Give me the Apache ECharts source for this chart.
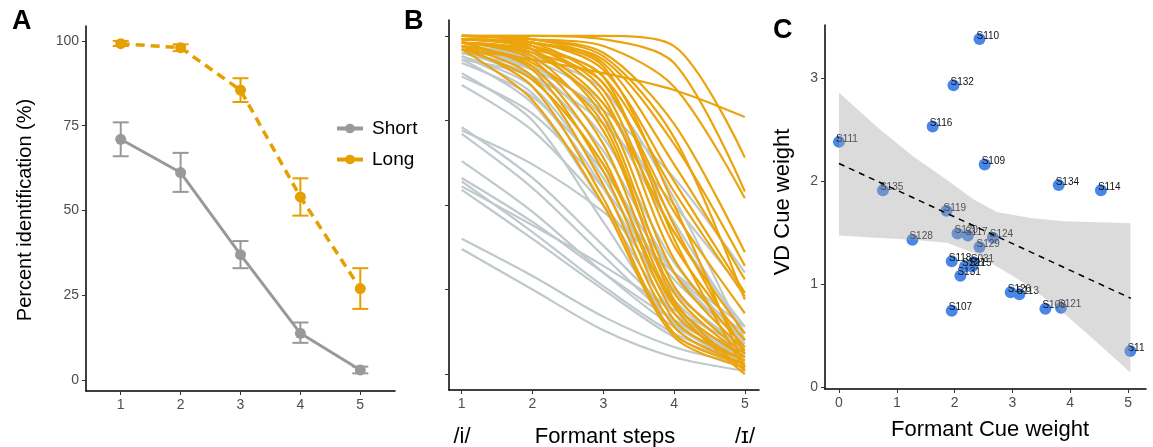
<!DOCTYPE html>
<html>
<head>
<meta charset="utf-8">
<script src="https://cdn.jsdelivr.net/npm/echarts@6/dist/echarts.min.js"></script>
<style>
  html, body { margin: 0; padding: 0; background: #fff; }
  #chart { width: 1153px; height: 447px; }
</style>
</head>
<body>
<div id="chart"></div>
<script>
// ---- panel A : mean identification per step ----
const steps = [1, 2, 3, 4, 5];
const shortPct = [71, 61.2, 37, 13.8, 3];
const shortLo = [66, 55.5, 33, 11, 2];
const shortHi = [76, 67, 41, 17, 4];
const longPct = [99.2, 98, 85.5, 54, 27];
const longLo = [98.5, 97, 82, 48.5, 21];
const longHi = [100, 99, 89, 59.5, 33];
const pctTicks = [0, 25, 50, 75, 100];

// ---- panel B : individual fitted curves (value at steps 1..5) ----
const greyCurves = [
  [0.97, 0.93, 0.80, 0.45, 0.12],
  [0.96, 0.91, 0.76, 0.42, 0.14],
  [0.96, 0.90, 0.70, 0.33, 0.10],
  [0.95, 0.88, 0.66, 0.30, 0.09],
  [0.95, 0.87, 0.62, 0.25, 0.07],
  [0.94, 0.85, 0.58, 0.22, 0.06],
  [0.94, 0.83, 0.55, 0.20, 0.05],
  [0.93, 0.80, 0.50, 0.18, 0.05],
  [0.93, 0.88, 0.74, 0.50, 0.24],
  [0.88, 0.77, 0.55, 0.28, 0.10],
  [0.855, 0.72, 0.50, 0.24, 0.08],
  [0.73, 0.58, 0.38, 0.18, 0.06],
  [0.72, 0.62, 0.48, 0.30, 0.14],
  [0.71, 0.55, 0.35, 0.16, 0.05],
  [0.63, 0.48, 0.30, 0.14, 0.05],
  [0.58, 0.45, 0.30, 0.16, 0.07],
  [0.57, 0.42, 0.26, 0.12, 0.04],
  [0.555, 0.44, 0.32, 0.19, 0.08],
  [0.545, 0.40, 0.25, 0.11, 0.03],
  [0.40, 0.29, 0.17, 0.08, 0.03],
  [0.37, 0.25, 0.13, 0.05, 0.01],
  [0.95, 0.90, 0.78, 0.58, 0.30],
  [0.97, 0.94, 0.84, 0.52, 0.10],
  [0.92, 0.82, 0.60, 0.30, 0.12],
  [0.89, 0.75, 0.45, 0.15, 0.03]
];
const orangeCurves = [
  [0.96, 0.93, 0.89, 0.84, 0.76],
  [1.00, 1.00, 1.00, 0.97, 0.64],
  [1.00, 1.00, 0.99, 0.92, 0.54],
  [1.00, 0.99, 0.97, 0.85, 0.52],
  [1.00, 0.99, 0.95, 0.74, 0.36],
  [0.99, 0.98, 0.93, 0.68, 0.32],
  [1.00, 0.99, 0.92, 0.62, 0.28],
  [0.99, 0.98, 0.90, 0.57, 0.24],
  [0.99, 0.97, 0.88, 0.54, 0.23],
  [1.00, 0.98, 0.86, 0.48, 0.18],
  [0.99, 0.97, 0.84, 0.38, 0.10],
  [0.99, 0.97, 0.82, 0.34, 0.08],
  [0.98, 0.95, 0.78, 0.30, 0.07],
  [0.99, 0.96, 0.76, 0.26, 0.06],
  [0.98, 0.94, 0.72, 0.24, 0.05],
  [0.98, 0.93, 0.68, 0.21, 0.05],
  [0.97, 0.91, 0.64, 0.18, 0.04],
  [0.98, 0.90, 0.60, 0.16, 0.04],
  [0.97, 0.88, 0.56, 0.14, 0.03],
  [0.97, 0.85, 0.52, 0.12, 0.03],
  [0.96, 0.81, 0.50, 0.11, 0.02],
  [0.99, 0.96, 0.80, 0.42, 0.12],
  [1.00, 0.99, 0.94, 0.70, 0.22],
  [0.98, 0.95, 0.86, 0.44, 0.06],
  [0.99, 0.98, 0.91, 0.50, 0.02],
  [0.97, 0.92, 0.74, 0.22, 0.01],
  [0.98, 0.96, 0.88, 0.40, 0.01],
  [0.96, 0.87, 0.62, 0.20, 0.00]
];
const propTicks = [0, 0.25, 0.5, 0.75, 1];

// ---- panel C : cue weights per subject ----
const subjects = ['S110', 'S132', 'S116', 'S111', 'S109', 'S135', 'S134', 'S114', 'S119', 'S120',
  'S117', 'S124', 'S129', 'S128', 'S118', 'S031', 'S127', 'S115', 'S131', 'S126', 'S113',
  'S107', 'S108', 'S121', 'S11'];
const formantW = [2.43, 1.98, 1.62, 0.00, 2.52, 0.76, 3.80, 4.53, 1.86, 2.05,
  2.23, 2.66, 2.43, 1.27, 1.95, 2.33, 2.18, 2.30, 2.10, 2.97, 3.12,
  1.95, 3.57, 3.84, 5.04];
const vdW = [3.38, 2.93, 2.53, 2.38, 2.16, 1.91, 1.96, 1.91, 1.71, 1.49,
  1.47, 1.45, 1.36, 1.43, 1.22, 1.21, 1.17, 1.17, 1.08, 0.92, 0.90,
  0.74, 0.76, 0.77, 0.35];
const fitX = [0, 5.05];
const fitY = [2.17, 0.86];
const bandUpX = [0, 0.35, 0.71, 1.28, 1.87, 2.33, 2.73, 3.31, 3.88, 4.47, 5.04];
const bandUpY = [2.86, 2.68, 2.50, 2.24, 2.01, 1.82, 1.70, 1.64, 1.61, 1.60, 1.59];
const bandLoX = [0, 0.64, 1.28, 1.87, 2.33, 2.73, 3.0, 3.31, 3.88, 4.47, 5.04];
const bandLoY = [1.47, 1.45, 1.43, 1.40, 1.30, 1.17, 1.08, 0.97, 0.72, 0.43, 0.14];
const cXTicks = [0, 1, 2, 3, 4, 5];
const cYTicks = [0, 1, 2, 3];

const GREY = '#999999';
const ORANGE = '#E69F00';
const tickFont = { color: '#4d4d4d', fontSize: 14, fontFamily: 'Liberation Sans, Arial, sans-serif' };

function axisBase(ticks, showLabel) {
  return {
    type: 'value',
    splitLine: { show: false },
    axisLine: { show: true, onZero: false, lineStyle: { color: '#000', width: 1.5 } },
    axisTick: { show: true, length: 4, customValues: ticks, lineStyle: { color: '#333' } },
    axisLabel: Object.assign({ show: showLabel, customValues: ticks, margin: 7 }, tickFont)
  };
}

function errRender(color) {
  return function (params, api) {
    const x = api.value(0);
    const p1 = api.coord([x, api.value(1)]);
    const p2 = api.coord([x, api.value(2)]);
    const w = 8;
    const st = { stroke: color, lineWidth: 2 };
    return {
      type: 'group',
      children: [
        { type: 'line', shape: { x1: p1[0], y1: p1[1], x2: p2[0], y2: p2[1] }, style: st },
        { type: 'line', shape: { x1: p1[0] - w, y1: p1[1], x2: p1[0] + w, y2: p1[1] }, style: st },
        { type: 'line', shape: { x1: p2[0] - w, y1: p2[1], x2: p2[0] + w, y2: p2[1] }, style: st }
      ]
    };
  };
}

const series = [];

// A
series.push({
  type: 'custom', name: 'Short err', xAxisIndex: 0, yAxisIndex: 0, z: 3,
  renderItem: errRender(GREY), encode: { x: 0, y: [1, 2] },
  data: steps.map((s, i) => [s, shortLo[i], shortHi[i]])
});
series.push({
  type: 'custom', name: 'Long err', xAxisIndex: 0, yAxisIndex: 0, z: 3,
  renderItem: errRender(ORANGE), encode: { x: 0, y: [1, 2] },
  data: steps.map((s, i) => [s, longLo[i], longHi[i]])
});
series.push({
  type: 'line', name: 'Short', xAxisIndex: 0, yAxisIndex: 0, z: 4,
  symbol: 'circle', symbolSize: 11, color: GREY,
  lineStyle: { color: GREY, width: 3 },
  data: steps.map((s, i) => [s, shortPct[i]])
});
series.push({
  type: 'line', name: 'Long', xAxisIndex: 0, yAxisIndex: 0, z: 4,
  symbol: 'circle', symbolSize: 11, color: ORANGE,
  lineStyle: { color: ORANGE, width: 3.5, type: [9, 6] },
  data: steps.map((s, i) => [s, longPct[i]])
});

// B
greyCurves.forEach(c => series.push({
  type: 'line', xAxisIndex: 1, yAxisIndex: 1, showSymbol: false, silent: true,
  smooth: 0.3,
  lineStyle: { color: '#BFC9CB', width: 2.2 }, z: 2,
  data: steps.map((s, i) => [s, c[i]])
}));
orangeCurves.forEach(c => series.push({
  type: 'line', xAxisIndex: 1, yAxisIndex: 1, showSymbol: false, silent: true,
  smooth: 0.3,
  lineStyle: { color: '#EBA40C', width: 2.2 }, z: 3,
  data: steps.map((s, i) => [s, c[i]])
}));

// C
series.push({
  type: 'scatter', xAxisIndex: 2, yAxisIndex: 2, z: 2,
  symbolSize: 12, itemStyle: { color: '#4A86E8', opacity: 1 },
  label: {
    show: true, position: 'right', distance: -9, offset: [0, -3],
    formatter: p => subjects[p.dataIndex],
    color: '#111', fontSize: 10, fontFamily: 'Liberation Sans, Arial, sans-serif'
  },
  data: formantW.map((x, i) => [x, vdW[i]])
});
series.push({
  type: 'custom', xAxisIndex: 2, yAxisIndex: 2, z: 5, silent: true,
  renderItem: function (params, api) {
    const pts = [];
    bandUpX.forEach((x, i) => pts.push(api.coord([x, bandUpY[i]])));
    for (let i = bandLoX.length - 1; i >= 0; i--) pts.push(api.coord([bandLoX[i], bandLoY[i]]));
    return { type: 'polygon', shape: { points: pts }, style: { fill: 'rgba(165,165,165,0.4)' } };
  },
  data: [[0, 0]]
});
series.push({
  type: 'line', xAxisIndex: 2, yAxisIndex: 2, z: 6, showSymbol: false, silent: true,
  lineStyle: { color: '#000', width: 1.5, type: [6, 5] },
  data: fitX.map((x, i) => [x, fitY[i]])
});

const bigFont = 'Liberation Sans, Arial, sans-serif';
const option = {
  backgroundColor: '#fff',
  animation: false,
  grid: [
    { left: 86, top: 26, width: 309, height: 365 },
    { left: 449, top: 20, width: 310, height: 370 },
    { left: 825, top: 25, width: 321, height: 364 }
  ],
  xAxis: [
    Object.assign(axisBase(steps, true), { gridIndex: 0, min: 0.42, max: 5.58 }),
    Object.assign(axisBase(steps, true), { gridIndex: 1, min: 0.82, max: 5.2 }),
    Object.assign(axisBase(cXTicks, true), { gridIndex: 2, min: -0.242, max: 5.31 })
  ],
  yAxis: [
    Object.assign(axisBase(pctTicks, true), { gridIndex: 0, min: -3.2, max: 104.4 }),
    Object.assign(axisBase(propTicks, false), { gridIndex: 1, min: -0.047, max: 1.047 }),
    Object.assign(axisBase(cYTicks, true), { gridIndex: 2, min: -0.02, max: 3.515 })
  ],
  legend: {
    data: ['Short', 'Long'], orient: 'vertical', left: 330, top: 114,
    itemWidth: 26, itemHeight: 12, itemGap: 12,
    lineStyle: { type: 'solid', width: 4 },
    textStyle: { fontSize: 19, color: '#000', fontFamily: bigFont, padding: [0, 0, 0, 4] }
  },
  graphic: [
    { type: 'text', left: 12, top: 8, style: { text: 'A', font: 'bold 27px ' + bigFont, fill: '#000' } },
    { type: 'text', left: 404, top: 8, style: { text: 'B', font: 'bold 27px ' + bigFont, fill: '#000' } },
    { type: 'text', left: 773, top: 17, style: { text: 'C', font: 'bold 27px ' + bigFont, fill: '#000' } },
    { type: 'text', x: 25, y: 210, rotation: Math.PI / 2,
      style: { text: 'Percent identification (%)', font: '20px ' + bigFont, fill: '#000', align: 'center', verticalAlign: 'middle' } },
    { type: 'text', x: 462, y: 437,
      style: { text: '/i/', font: '22px ' + bigFont, fill: '#000', align: 'center', verticalAlign: 'middle' } },
    { type: 'text', x: 605, y: 437,
      style: { text: 'Formant steps', font: '22px ' + bigFont, fill: '#000', align: 'center', verticalAlign: 'middle' } },
    { type: 'text', x: 745, y: 437,
      style: { text: '/ɪ/', font: '22px ' + bigFont, fill: '#000', align: 'center', verticalAlign: 'middle' } },
    { type: 'text', x: 783, y: 202, rotation: Math.PI / 2,
      style: { text: 'VD Cue weight', font: '22px ' + bigFont, fill: '#000', align: 'center', verticalAlign: 'middle' } },
    { type: 'text', x: 990, y: 430,
      style: { text: 'Formant Cue weight', font: '22px ' + bigFont, fill: '#000', align: 'center', verticalAlign: 'middle' } }
  ],
  series: series
};

const chart = echarts.init(document.getElementById('chart'));
chart.setOption(option);
</script>
</body>
</html>
